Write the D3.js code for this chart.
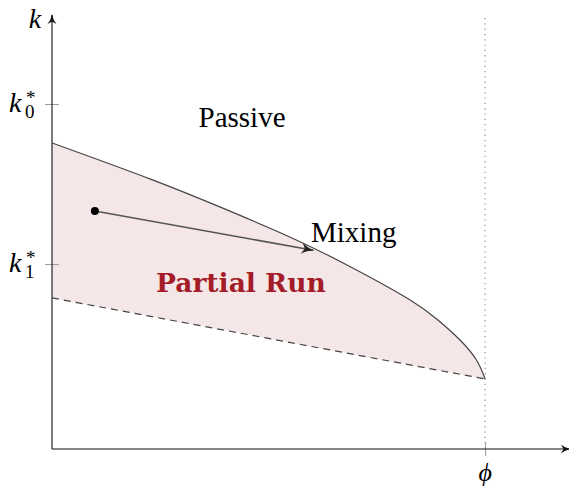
<!DOCTYPE html>
<html lang="en">
<head>
<meta charset="UTF-8">
<title>Partial run region</title>
<script src="https://d3js.org/d3.v7.min.js"></script>
<style>
  body { margin: 0; background: #fff; }
  text { font-family: "Liberation Serif", "DejaVu Serif", serif; }
</style>
</head>
<body>
<svg width="569" height="491"></svg>
<script>
// Data (units: phi = 1, k0* = 1)
const phi = 1;
const k0 = 1;
const k1 = 0.536;
// upper boundary, read from the right end (at phi) back to the k axis
const upperX = [1, 0.980, 0.942, 0.891, 0.827, 0.703, 0.564, 0.404, 0.232, 0];
const upperK = [0.203, 0.258, 0.316, 0.374, 0.432, 0.519, 0.606, 0.693, 0.780, 0.887];
const lowerX = [0, 1];
const lowerK = [0.438, 0.203];
const startPt = [0.099, 0.690];
const endPt = [0.603, 0.576];

const svg = d3.select("svg");
const x = d3.scaleLinear().domain([0, 1.196]).range([52, 570]);
const y = d3.scaleLinear().domain([0, 1.258]).range([449, 15]);

const upper = upperX.map((d, i) => [d, upperK[i]]);
const lower = lowerX.map((d, i) => [d, lowerK[i]]);

// arrow markers
const defs = svg.append("defs");
function marker(id, color, len) {
  defs.append("marker")
      .attr("id", id)
      .attr("viewBox", "0 -5 10 10")
      .attr("refX", 9)
      .attr("refY", 0)
      .attr("markerUnits", "userSpaceOnUse")
      .attr("markerWidth", len)
      .attr("markerHeight", len)
      .attr("orient", "auto")
    .append("path")
      .attr("d", "M0,-4.5 Q4,-1 10,0 Q4,1 0,4.5 L2.5,0 Z")
      .attr("fill", color);
}
marker("axisArrow", "#111", 10);
marker("mixArrow", "#222", 13);

const upperLine = d3.line().x(d => x(d[0])).y(d => y(d[1])).curve(d3.curveNatural);
const lowerLine = d3.line().x(d => x(d[0])).y(d => y(d[1]));

// shaded region: upper curve (phi -> axis) then straight lower edge back
svg.append("path")
    .attr("d", upperLine(upper) + lowerLine(lower).replace(/^M/, "L") + "Z")
    .attr("fill", "#f5e6e8");

// phi dotted line
svg.append("line")
    .attr("x1", x(phi)).attr("x2", x(phi))
    .attr("y1", y(1.258) + 3).attr("y2", y(0))
    .attr("stroke", "#888")
    .attr("stroke-width", 1.1)
    .attr("stroke-dasharray", "1.3,4");

// axes ticks via d3 axes
const yAxis = svg.append("g")
    .attr("transform", `translate(${x(0)},0)`)
    .call(d3.axisLeft(y).tickValues([k0, k1]).tickFormat("").tickSize(7));
yAxis.select(".domain").remove();
yAxis.selectAll(".tick line").attr("x2", 7).attr("x1", -7).attr("stroke", "#999");

const xAxis = svg.append("g")
    .attr("transform", `translate(0,${y(0)})`)
    .call(d3.axisBottom(x).tickValues([phi]).tickFormat("").tickSize(7));
xAxis.select(".domain").remove();
xAxis.selectAll(".tick line").attr("y1", -7).attr("y2", 7).attr("stroke", "#999");

// axis lines with arrows
svg.append("line")
    .attr("x1", x(0)).attr("y1", y(0))
    .attr("x2", x(1.196)).attr("y2", y(0))
    .attr("stroke", "#111").attr("stroke-width", 1.1)
    .attr("marker-end", "url(#axisArrow)");
svg.append("line")
    .attr("x1", x(0)).attr("y1", y(0))
    .attr("x2", x(0)).attr("y2", y(1.258))
    .attr("stroke", "#111").attr("stroke-width", 1.1)
    .attr("marker-end", "url(#axisArrow)");

// upper boundary
svg.append("path")
    .attr("d", upperLine(upper))
    .attr("fill", "none")
    .attr("stroke", "#444")
    .attr("stroke-width", 1.2);

// lower boundary (dashed)
svg.append("path")
    .attr("d", lowerLine(lower))
    .attr("fill", "none")
    .attr("stroke", "#444")
    .attr("stroke-width", 1.2)
    .attr("stroke-dasharray", "7,5");

// mixing arrow
svg.append("line")
    .attr("x1", x(startPt[0])).attr("y1", y(startPt[1]))
    .attr("x2", x(endPt[0])).attr("y2", y(endPt[1]))
    .attr("stroke", "#555").attr("stroke-width", 1.5)
    .attr("marker-end", "url(#mixArrow)");
svg.append("circle")
    .attr("cx", x(startPt[0])).attr("cy", y(startPt[1]))
    .attr("r", 4)
    .attr("fill", "#000");

// labels
svg.append("text")
    .attr("x", 35).attr("y", 28)
    .attr("text-anchor", "middle")
    .attr("font-size", 28).attr("font-style", "italic")
    .text("k");

function kLabel(val, sub) {
  const ty = y(val);
  const t = svg.append("text")
      .attr("x", 9).attr("y", ty + 8)
      .attr("font-size", 28);
  t.append("tspan").attr("font-style", "italic").text("k");
  t.append("tspan").attr("x", 26).attr("y", ty).attr("font-size", 19).text("*");
  t.append("tspan").attr("x", 25).attr("y", ty + 14).attr("font-size", 19).text(sub);
}
kLabel(k0, "0");
kLabel(k1, "1");

svg.append("text")
    .attr("x", x(phi)).attr("y", 481)
    .attr("text-anchor", "middle")
    .attr("font-size", 26).attr("font-style", "italic")
    .text("\u03d5");

svg.append("text")
    .attr("x", 242).attr("y", 127)
    .attr("text-anchor", "middle")
    .attr("font-size", 29)
    .text("Passive");

svg.append("text")
    .attr("x", 311).attr("y", 242)
    .attr("font-size", 29)
    .text("Mixing");

svg.append("text")
    .attr("x", 156).attr("y", 292)
    .style("font-family", "'DejaVu Serif', serif")
    .attr("font-size", 26.5)
    .attr("font-weight", "bold")
    .attr("fill", "#a31c27")
    .text("Partial Run");
</script>
</body>
</html>
